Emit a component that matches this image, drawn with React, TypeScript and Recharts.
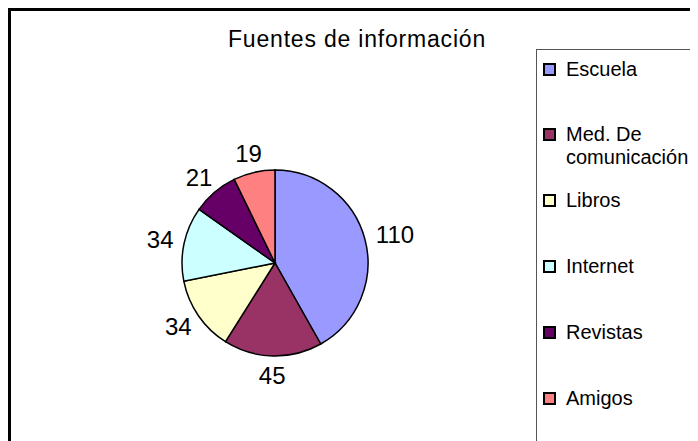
import React from 'react';
import { PieChart, Pie, Cell, Legend } from 'recharts';

const categories = ['Escuela', 'Med. De comunicación', 'Libros', 'Internet', 'Revistas', 'Amigos'];
const values = [110, 45, 34, 34, 21, 19];
const colors = ['#9999FF', '#993366', '#FFFFCC', '#CCFFFF', '#660066', '#FF8080'];
const title = 'Fuentes de información';

const data = categories.map((name, i) => ({ name, value: values[i] }));

const FONT = '"Liberation Sans", Arial, sans-serif';
const RAD = Math.PI / 180;
const LABEL_FS = 24;

const renderLabel = (props: any) => {
  const { cx, cy, midAngle, outerRadius, value } = props;
  const dx = Math.cos(-midAngle * RAD);
  const dy = Math.sin(-midAngle * RAD);
  const R = outerRadius + 11;
  const px = cx + R * dx;
  const py = cy + R * dy;
  const w = String(value).length * 0.556 * LABEL_FS;
  const h = 0.72 * LABEL_FS;
  const x = px + (dx * w) / 2;
  const y = py + (dy * h) / 2;
  return (
    <text
      x={x}
      y={y}
      textAnchor="middle"
      dominantBaseline="central"
      fontFamily={FONT}
      fontSize={LABEL_FS}
      fill="#000"
    >
      {value}
    </text>
  );
};

const renderLegend = () => (
  <div
    style={{
      position: 'relative',
      width: 162,
      height: 392,
      borderTop: '1px solid #555',
      borderLeft: '1px solid #555',
      boxSizing: 'border-box',
      background: '#fff',
      fontFamily: FONT,
    }}
  >
    {categories.map((name, i) => {
      const c = 19 + i * 65.8;
      return (
        <div key={name}>
          <div
            style={{
              position: 'absolute',
              left: 6,
              top: c - 6.5,
              width: 13,
              height: 13,
              border: '2px solid #000',
              boxSizing: 'border-box',
              background: colors[i],
            }}
          />
          <div
            style={{
              position: 'absolute',
              left: 29,
              top: c - 11.5,
              width: 132,
              fontSize: 20,
              lineHeight: '23px',
              color: '#000',
              whiteSpace: 'normal',
            }}
          >
            {name}
          </div>
        </div>
      );
    })}
  </div>
);

export default function App() {
  return (
    <div
      style={{
        position: 'relative',
        width: 690,
        height: 433,
        borderTop: '3px solid #000',
        borderLeft: '3px solid #000',
        boxSizing: 'border-box',
        background: '#fff',
        overflow: 'hidden',
      }}
    >
      <div
        style={{
          position: 'absolute',
          left: 0,
          top: 15,
          width: 692,
          textAlign: 'center',
          fontFamily: FONT,
          fontSize: 23,
          letterSpacing: 0.8,
          lineHeight: '26px',
          color: '#000',
          whiteSpace: 'nowrap',
        }}
      >
        {title}
      </div>
      <PieChart width={687} height={430}>
        <Pie
          data={data}
          dataKey="value"
          nameKey="name"
          cx={259}
          cy={247}
          outerRadius={93}
          startAngle={90}
          endAngle={-270}
          stroke="#000"
          strokeWidth={1.5}
          label={renderLabel}
          labelLine={false}
          isAnimationActive={false}
        >
          {data.map((d, i) => (
            <Cell key={d.name} fill={colors[i]} />
          ))}
        </Pie>
        <Legend
          content={renderLegend}
          wrapperStyle={{ position: 'absolute', left: 525, top: 38, width: 162, height: 392 }}
        />
      </PieChart>
    </div>
  );
}
